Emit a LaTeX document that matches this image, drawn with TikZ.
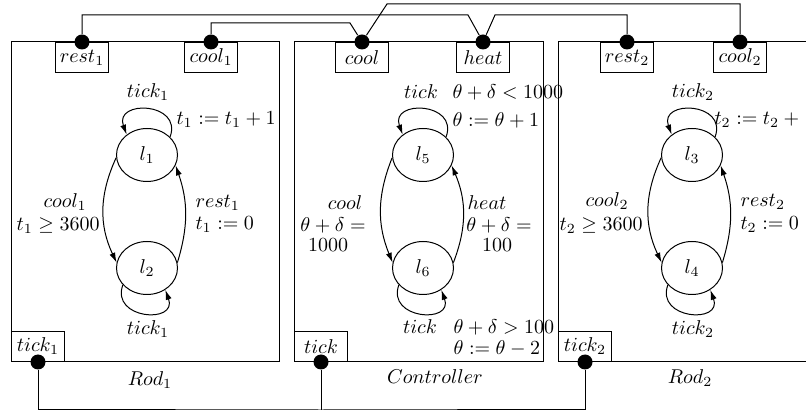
\documentclass[tikz,border=0pt]{standalone}
\usepackage{amsmath}
\usepackage{tikz}
\usetikzlibrary{positioning, shapes.geometric, arrows.meta, calc}

\begin{document}
\begin{tikzpicture}[x=0.5pt, y=-0.5pt, line width=0.5pt,
    loc/.style={ellipse, draw, minimum width=30.5pt, minimum height=26.5pt, inner sep=0pt},
    port/.style={rectangle, draw, minimum width=26.5pt, minimum height=15pt, inner sep=2pt},
    pin/.style={circle, fill=black, minimum size=7.5pt, inner sep=0pt},
    trans/.style={-{Latex[length=5pt,width=3pt]}},
    lbl/.style={inner sep=0pt}]
  \useasboundingbox (0,0) rectangle (806,415);

  % Rod 1
  \draw (11,42) rectangle (279,362);
  \node[loc] (l1) at (147,155) {$l_1$};
  \node[loc] (l2) at (147,268) {$l_2$};
  \draw[trans] (l1.38) to[out=70, in=110, looseness=2.2] (l1.135);
  \draw[trans] (l2.215) to[out=-110, in=-70, looseness=2.2] (l2.-50);
  \draw[trans] (l1.185) to[bend right=25] (l2.170);
  \draw[trans] (l2.10) to[bend right=18] (l1.-20);
  \node[lbl] (top1) at (148,92) {$tick_1$};
  \node[lbl, anchor=west] (upd1) at (176,120) {$t_1 := t_1 + 1$};
  \node[lbl] (cool1lbl) at (65,202) {$cool_1$};
  \node[lbl, anchor=east] (grd1) at (100,226) {$t_1 \geq 3600$};
  \node[lbl, anchor=west] (rest1lbl) at (195,203) {$rest_1$};
  \node[lbl, anchor=west] (res1) at (195,225) {$t_1 := 0$};
  \node[lbl] (bot1) at (148,329) {$tick_1$};
  \node[port, anchor=north] (prest1) at (82,42) {$rest_1$};
  \node[port, anchor=north] (pcool1) at (211,42) {$cool_1$};
  \node[port, anchor=south west] (ptick1) at (11,362) {$tick_1$};
  \node[pin] (drest1) at (prest1.north) {};
  \node[pin] (dcool1) at (pcool1.north) {};
  \node[pin] (dtick1) at (ptick1.south) {};
  \node (rod1) at (150,380) {$Rod_1$};

  % Controller
  \draw (294,42) rectangle (543,362);
  \node[loc] (l5) at (423,155) {$l_5$};
  \node[loc] (l6) at (423,268) {$l_6$};
  \draw[trans] (l5.38) to[out=70, in=110, looseness=2.2] (l5.135);
  \draw[trans] (l6.215) to[out=-110, in=-70, looseness=2.2] (l6.-50);
  \draw[trans] (l5.185) to[bend right=22] (l6.170);
  \draw[trans] (l6.10) to[bend right=22] (l5.-20);
  \node[lbl] (topc) at (421,92) {$tick$};
  \node[lbl, anchor=west] (grdc) at (452,92) {$\theta + \delta < 1000$};
  \node[lbl, anchor=west] (updc) at (452,120) {$\theta := \theta + 1$};
  \node[lbl] (coollbl) at (345,203) {$cool$};
  \node[lbl] (coolgrd) at (333,225) {$\theta + \delta =$};
  \node[lbl] (coolval) at (328,245) {$1000$};
  \node[lbl] (heatlbl) at (487,203) {$heat$};
  \node[lbl] (heatgrd) at (499,225) {$\theta + \delta =$};
  \node[lbl] (heatval) at (497,245) {$100$};
  \node[lbl] (botc) at (420,327) {$tick$};
  \node[lbl, anchor=west] (grdc2) at (453,327) {$\theta + \delta > 100$};
  \node[lbl, anchor=west] (updc2) at (453,348) {$\theta := \theta - 2$};
  \node[port, anchor=north] (pcool) at (362,42) {$cool$};
  \node[port, anchor=north] (pheat) at (483,42) {$heat$};
  \node[port, anchor=south west] (ptick) at (294,362) {$tick$};
  \node[pin] (dcool) at (pcool.north) {};
  \node[pin] (dheat) at (pheat.north) {};
  \node[pin] (dtick) at (ptick.south) {};
  \node (ctrl) at (435,377) {$Controller$};

  % Rod 2
  \draw (806,42) -| (558,362) -- (806,362);
  \node[loc] (l3) at (692,155) {$l_3$};
  \node[loc] (l4) at (692,268) {$l_4$};
  \draw[trans] (l3.38) to[out=70, in=110, looseness=2.2] (l3.135);
  \draw[trans] (l4.215) to[out=-110, in=-70, looseness=2.2] (l4.-50);
  \draw[trans] (l3.185) to[bend right=25] (l4.170);
  \draw[trans] (l4.10) to[bend right=18] (l3.-20);
  \node[lbl] (top2) at (693,92) {$tick_2$};
  \node[lbl, anchor=west] (upd2) at (714,120) {$t_2 := t_2 +{}$};
  \node[lbl] (cool2lbl) at (607,201) {$cool_2$};
  \node[lbl, anchor=east] (grd2) at (643,226) {$t_2 \geq 3600$};
  \node[lbl, anchor=west] (rest2lbl) at (740,202) {$rest_2$};
  \node[lbl, anchor=west] (res2) at (740,225) {$t_2 := 0$};
  \node[lbl] (bot2) at (693,329) {$tick_2$};
  \node[port, anchor=north] (prest2) at (627,42) {$rest_2$};
  \node[port, anchor=north] (pcool2) at (740,42) {$cool_2$};
  \node[port, anchor=south west] (ptick2) at (558,362) {$tick_2$};
  \node[pin] (drest2) at (prest2.north) {};
  \node[pin] (dcool2) at (pcool2.north) {};
  \node[pin] (dtick2) at (ptick2.south) {};
  \node (rod2) at (690,378) {$Rod_2$};

  % links
  \coordinate (k1) at (387,4);
  \coordinate (k2) at (468,15);
  \coordinate (k3) at (495,15);
  \coordinate (k4) at (350,23);
  \coordinate (bus) at (321,410);
  \draw (dcool) -- (k1) -| (dcool2);
  \draw (drest1) |- (k2) -- (dheat);
  \draw (dheat) -- (k3) -| (drest2);
  \draw (dcool1) |- (k4) -- (dcool);
  \draw (dtick1) |- (bus) -| (dtick2);
  \draw (dtick) -- (bus);
\end{tikzpicture}
\end{document}
